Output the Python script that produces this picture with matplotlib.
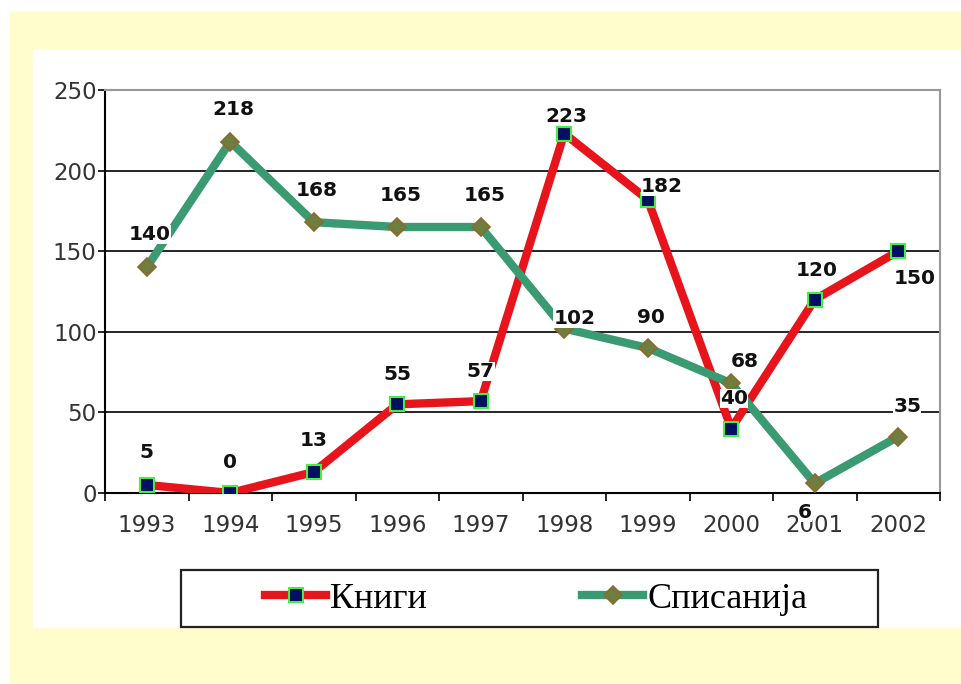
import matplotlib.pyplot as plt
from matplotlib.patches import Rectangle

years = ['1993', '1994', '1995', '1996', '1997', '1998', '1999', '2000', '2001', '2002']
knigi = [5, 0, 13, 55, 57, 223, 182, 40, 120, 150]
spisanija = [140, 218, 168, 165, 165, 102, 90, 68, 6, 35]

# label offsets in pixels (dx, dy) relative to each marker
knigi_off = [(0, 32), (0, 31), (0, 32), (0, 30), (0, 30), (2, 17), (14, 13), (3, 30), (2, 29), (16, -27)]
spis_off = [(3, 33), (3, 32), (3, 32), (3, 32), (4, 32), (10, 10), (3, 30), (13, 22), (-10, -29), (9, 30)]

fig = plt.figure(figsize=(9.62, 6.84), dpi=100)
W, H = 962, 684
fig.patches.append(Rectangle((10 / W, 0), 1, 1 - 12 / H, transform=fig.transFigure,
                             color='#fffdcc', zorder=-2))
fig.patches.append(Rectangle((33 / W, 1 - 627 / H), 1, (627 - 50) / H, transform=fig.transFigure,
                             color='white', zorder=-1))
# legend box
fig.patches.append(Rectangle((181 / W, 1 - 627 / H), (878 - 181) / W, (627 - 570) / H,
                             transform=fig.transFigure, fc='white', ec='#222222', lw=1.6, zorder=1))

ax = fig.add_axes([105 / W, 1 - 493 / H, 835 / W, 403 / H])
x = list(range(len(years)))

ax.plot(x, knigi, color='#e8141b', lw=6, marker='s', ms=10,
        mfc='#001060', mec='#44ee44', mew=1.5, label='Книги', zorder=3)
ax.plot(x, spisanija, color='#3a9a72', lw=6, marker='D', ms=9,
        mfc='#6e7e3e', mec='#8a6a30', mew=1.2, label='Списанија', zorder=3)

for xi, v, off in zip(x, knigi, knigi_off):
    ax.annotate(str(v), (xi, v), xytext=off, textcoords='offset pixels',
                ha='center', va='center', fontsize=14.5, fontweight='bold', color='#111111',
                bbox=dict(boxstyle='square,pad=0.0', fc='white', ec='none'), zorder=4)
for xi, v, off in zip(x, spisanija, spis_off):
    ax.annotate(str(v), (xi, v), xytext=off, textcoords='offset pixels',
                ha='center', va='center', fontsize=14.5, fontweight='bold', color='#111111',
                bbox=dict(boxstyle='square,pad=0.0', fc='white', ec='none'), zorder=4)

ax.set_xlim(-0.5, len(years) - 0.5)
ax.set_ylim(0, 250)
ax.set_yticks([0, 50, 100, 150, 200, 250])
ax.set_xticks(x)
ax.set_xticklabels(years)
ax.set_xticks([i + 0.5 for i in range(-1, len(years))], minor=True)
ax.tick_params(axis='x', which='major', length=0, labelsize=16.5, pad=15, colors='#333333')
ax.tick_params(axis='x', which='minor', length=6, width=1.2, direction='out', color='black')
ax.tick_params(axis='y', length=5, width=1.2, labelsize=16.5, pad=1, colors='#333333')
ax.tick_params(axis='y', color='black')
ax.grid(axis='y', color='black', lw=1.2, zorder=1)
for s in ['top', 'right']:
    ax.spines[s].set_color('#999999')
    ax.spines[s].set_linewidth(1.5)
for s in ['left', 'bottom']:
    ax.spines[s].set_color('black')
    ax.spines[s].set_linewidth(1.5)
ax.set_axisbelow(True)

leg = fig.legend(loc='center', bbox_to_anchor=(536 / W, 1 - 599 / H), ncol=2,
                 prop={'family': 'Liberation Serif', 'size': 26}, frameon=False,
                 columnspacing=4.3, handlelength=1.7, handletextpad=0.1, borderpad=0)
leg.set_zorder(2)

fig.savefig('out.png', dpi=100)
